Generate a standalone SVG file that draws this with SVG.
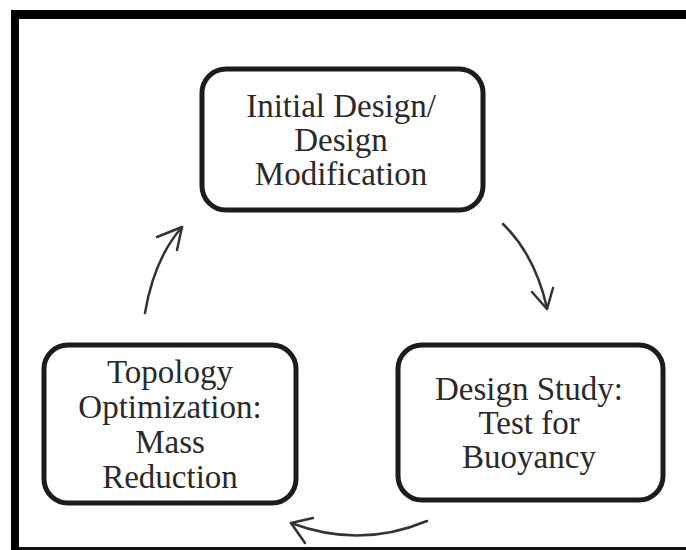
<svg xmlns="http://www.w3.org/2000/svg" width="686" height="550" viewBox="0 0 686 550">
<style>
.box{fill:#fff;stroke:#1c1c1c;stroke-width:5}
.lbl{font-family:"Liberation Serif","Times New Roman",serif;font-size:33px;fill:#2a2a2a;text-anchor:middle}
.arr{fill:none;stroke:#333;stroke-width:2.5;stroke-linecap:round;stroke-linejoin:round}
</style>
<rect x="0" y="0" width="686" height="550" fill="#fff"/>
<g id="frame">
<rect x="11" y="10" width="675" height="9" fill="#000"/>
<rect x="11" y="10" width="8" height="540" fill="#000"/>
<rect x="19" y="547" width="667" height="3" fill="#111"/>
</g>
<g id="node-initial">
<rect class="box" x="202" y="69" width="281" height="141" rx="24"/>
<text class="lbl" x="341" y="117">Initial Design/</text>
<text class="lbl" x="341" y="151">Design</text>
<text class="lbl" x="341" y="185">Modification</text>
</g>
<g id="node-study">
<rect class="box" x="398" y="345" width="265" height="155" rx="24"/>
<text class="lbl" x="529" y="400">Design Study:</text>
<text class="lbl" x="529" y="434">Test for</text>
<text class="lbl" x="529" y="468">Buoyancy</text>
</g>
<g id="node-topology">
<rect class="box" x="44" y="345" width="252" height="158" rx="24"/>
<text class="lbl" x="170" y="383">Topology</text>
<text class="lbl" x="170" y="418">Optimization:</text>
<text class="lbl" x="170" y="453">Mass</text>
<text class="lbl" x="170" y="488">Reduction</text>
</g>
<g id="connectors">
<path class="arr" d="M503,224 Q535,255 547,308"/>
<path class="arr" d="M532,292 L547,309 L553,288"/>
<path class="arr" d="M427,521 Q360,549 291,523"/>
<path class="arr" d="M313,518 L291,523 L305,543"/>
<path class="arr" d="M145,313 Q154,259 182,227"/>
<path class="arr" d="M157,237 L182,227 L177,250"/>
</g>
</svg>
